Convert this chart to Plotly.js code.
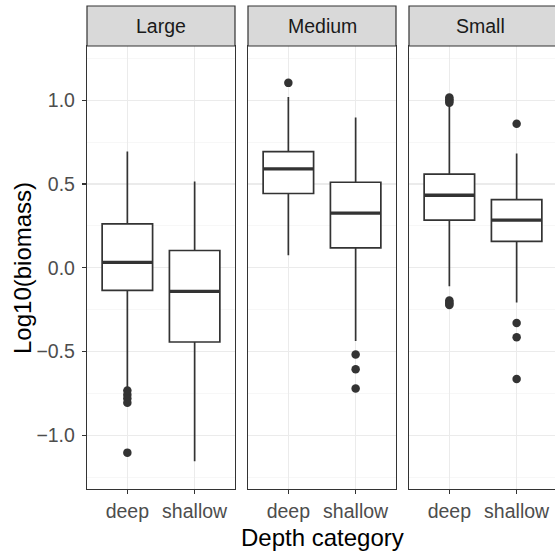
<!DOCTYPE html>
<html>
<head>
<meta charset="utf-8">
<script src="https://cdn.plot.ly/plotly-3.0.1.min.js"></script>
<style>html,body{margin:0;padding:0;overflow:hidden;background:#fff;}#chart{width:557px;height:552px;}</style>
</head>
<body>
<div id="chart"></div>
<script>
// ---- data ----
const panels = ['Large', 'Medium', 'Small'];
const depthCategories = ['deep', 'shallow'];

const largeQ1 = [-0.135, -0.443];
const largeMedian = [0.032, -0.141];
const largeQ3 = [0.262, 0.103];
const largeLower = [-0.715, -1.154];
const largeUpper = [0.693, 0.514];
const largeOutDeep = [-0.733, -0.757, -0.780, -0.806, -1.103];
const largeOutShallow = [];

const mediumQ1 = [0.443, 0.118];
const mediumMedian = [0.590, 0.326];
const mediumQ3 = [0.693, 0.510];
const mediumLower = [0.074, -0.437];
const mediumUpper = [1.019, 0.897];
const mediumOutDeep = [1.103];
const mediumOutShallow = [-0.517, -0.605, -0.721];

const smallQ1 = [0.284, 0.157];
const smallMedian = [0.433, 0.284];
const smallQ3 = [0.558, 0.407];
const smallLower = [-0.111, -0.207];
const smallUpper = [0.970, 0.681];
const smallOutDeep = [1.015, 1.005, 0.995, 0.985, -0.195, -0.205, -0.215, -0.222];
const smallOutShallow = [0.859, -0.330, -0.415, -0.664];

const yTickVals = [-1.0, -0.5, 0.0, 0.5, 1.0];
const yTickText = ['\u22121.0', '\u22120.5', '0.0', '0.5', '1.0'];

// ---- styling ----
const W = 557, H = 552;
const dark = '#333333';
const font = '"Liberation Sans", Arial, Helvetica, sans-serif';
const panelPx = [[87, 235], [248, 396], [409, 557]];
const panelTop = 46, panelBottom = 489, stripTop = 6;
const tickSize = 19.5, stripSize = 19.5, titleSize = 24;

const stats = [
  {q1: largeQ1, med: largeMedian, q3: largeQ3, lo: largeLower, hi: largeUpper, od: largeOutDeep, os: largeOutShallow},
  {q1: mediumQ1, med: mediumMedian, q3: mediumQ3, lo: mediumLower, hi: mediumUpper, od: mediumOutDeep, os: mediumOutShallow},
  {q1: smallQ1, med: smallMedian, q3: smallQ3, lo: smallLower, hi: smallUpper, od: smallOutDeep, os: smallOutShallow}
];

const traces = [];
stats.forEach((s, i) => {
  const xa = i === 0 ? 'x' : 'x' + (i + 1);
  const ya = i === 0 ? 'y' : 'y' + (i + 1);
  traces.push({
    type: 'box', xaxis: xa, yaxis: ya,
    x: depthCategories, q1: s.q1, median: s.med, q3: s.q3,
    lowerfence: s.lo, upperfence: s.hi,
    boxpoints: false, width: 0.75, whiskerwidth: 0,
    fillcolor: '#ffffff', line: {color: dark, width: 1.7},
    hoverinfo: 'skip', showlegend: false
  });
  // thick median bar (ggplot fatten)
  traces.push({
    type: 'box', xaxis: xa, yaxis: ya,
    x: depthCategories, q1: s.med, median: s.med, q3: s.med,
    lowerfence: s.med, upperfence: s.med,
    boxpoints: false, width: 0.75, whiskerwidth: 0,
    fillcolor: 'rgba(0,0,0,0)', line: {color: dark, width: 3.4},
    hoverinfo: 'skip', showlegend: false
  });
  const ox = [], oy = [];
  s.od.forEach(v => { ox.push(depthCategories[0]); oy.push(v); });
  s.os.forEach(v => { ox.push(depthCategories[1]); oy.push(v); });
  traces.push({
    type: 'scatter', mode: 'markers', xaxis: xa, yaxis: ya,
    x: ox, y: oy, marker: {color: dark, size: 8.5},
    hoverinfo: 'skip', showlegend: false
  });
});

const layout = {
  width: W, height: H,
  margin: {l: 0, r: 0, t: 0, b: 0},
  paper_bgcolor: '#ffffff', plot_bgcolor: '#ffffff',
  font: {family: font, color: '#4d4d4d'},
  showlegend: false,
  shapes: [], annotations: []
};

panelPx.forEach((p, i) => {
  const sfx = i === 0 ? '' : String(i + 1);
  layout['xaxis' + sfx] = {
    domain: [p[0] / W, p[1] / W],
    anchor: 'y' + sfx,
    type: 'category',
    categoryorder: 'array', categoryarray: depthCategories,
    range: [-0.6, 1.6],
    showgrid: true, gridcolor: '#ebebeb', gridwidth: 1.2,
    showline: true, mirror: true, linecolor: dark, linewidth: 1.2,
    ticks: 'outside', ticklen: 4, tickcolor: dark, tickwidth: 1.1,
    tickfont: {family: font, size: tickSize, color: '#4d4d4d'},
    zeroline: false, fixedrange: true
  };
  layout['yaxis' + sfx] = {
    domain: [1 - panelBottom / H, 1 - panelTop / H],
    anchor: 'x' + sfx,
    range: [-1.32, 1.323],
    tickvals: yTickVals, ticktext: yTickText,
    showticklabels: i === 0,
    ticks: i === 0 ? 'outside' : '', ticklen: 4, tickcolor: dark, tickwidth: 1.1,
    ticklabelstandoff: 3,
    tickfont: {family: font, size: tickSize, color: '#4d4d4d'},
    showgrid: true, gridcolor: '#ebebeb', gridwidth: 1.2,
    minor: {tick0: 0.25, dtick: 0.5, showgrid: true, gridcolor: '#f3f3f3', gridwidth: 0.7, ticks: ''},
    showline: true, mirror: true, linecolor: dark, linewidth: 1.2,
    zeroline: false, fixedrange: true
  };
  layout.shapes.push({
    type: 'rect', xref: 'paper', yref: 'paper',
    x0: p[0] / W, x1: p[1] / W, y0: 1 - panelTop / H, y1: 1 - stripTop / H,
    fillcolor: '#d9d9d9', line: {color: dark, width: 1.2}, layer: 'above'
  });
  layout.annotations.push({
    xref: 'paper', yref: 'paper',
    x: (p[0] + Math.min(p[1], 555)) / 2 / W - (i === 2 ? 0.002 : 0), y: 1 - (stripTop + panelTop) / 2 / H,
    text: panels[i], showarrow: false,
    xanchor: 'center', yanchor: 'middle',
    font: {family: font, size: stripSize, color: '#1a1a1a'}
  });
});

layout.annotations.push({
  xref: 'paper', yref: 'paper', x: 322 / W, y: 1 - 537 / H,
  text: 'Depth category', showarrow: false, xanchor: 'center', yanchor: 'middle',
  font: {family: font, size: titleSize, color: '#000000'}
});
layout.annotations.push({
  xref: 'paper', yref: 'paper', x: 23 / W, y: 1 - 268 / H,
  text: 'Log10(biomass)', showarrow: false, textangle: -90,
  xanchor: 'center', yanchor: 'middle',
  font: {family: font, size: titleSize, color: '#000000'}
});

Plotly.newPlot('chart', traces, layout, {staticPlot: true, displayModeBar: false});
</script>
</body>
</html>
